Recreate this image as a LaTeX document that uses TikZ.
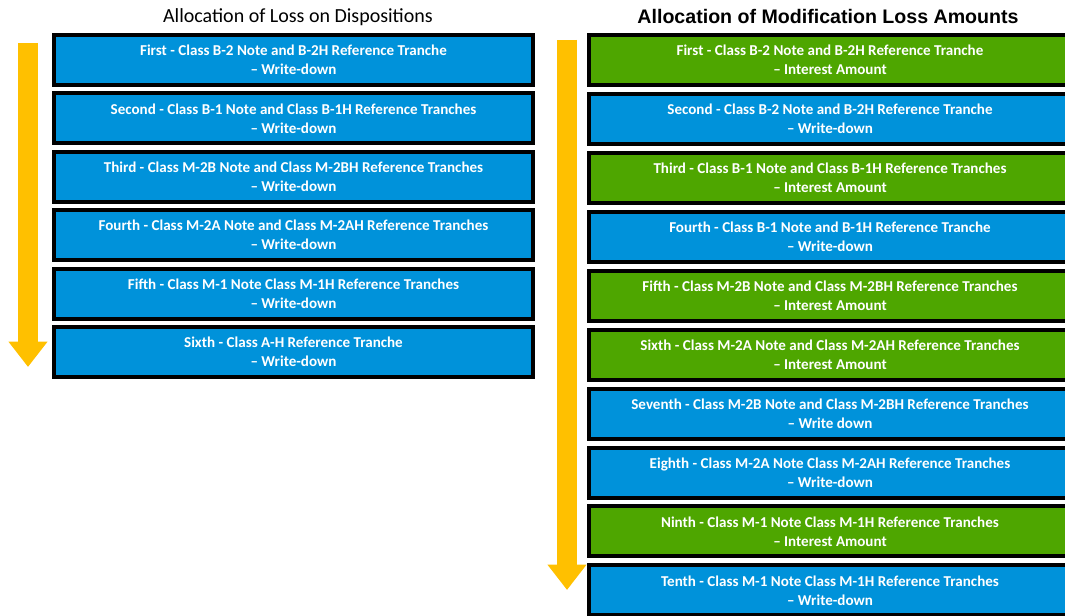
\documentclass[tikz,border=0pt]{standalone}
\usepackage{fontspec}
\setmainfont{Carlito}
\newfontfamily\headfont{Liberation Sans}
\usetikzlibrary{arrows.meta,positioning}

\definecolor{lossblue}{RGB}{0,146,218}
\definecolor{lossgreen}{RGB}{78,166,0}
\definecolor{flowgold}{RGB}{255,192,0}

\begin{document}
\begin{tikzpicture}[
  x=0.75pt, y=-0.75pt,
  tranche/.style={draw=black, line width=3pt, fill=lossblue, text=white,
    align=center, minimum width=359pt, minimum height=37.5pt, inner sep=0pt,
    font=\bfseries\fontsize{11.3}{14.3}\selectfont},
  interest/.style={tranche, fill=lossgreen, minimum width=362pt},
  writedown/.style={tranche, minimum width=362pt},
  flow/.style={line width=15pt, flowgold, -{Triangle[width=28pt, length=19pt]}}
]
\useasboundingbox (0,0) rectangle (1065,616);

% headings
\node[font=\fontsize{15}{17}\selectfont] (lefthead) at (298,17) {Allocation of Loss on Dispositions};
\node[font=\headfont\bfseries\fontsize{14.7}{17}\selectfont] (righthead) at (828,16) {Allocation of Modification Loss Amounts};

% dispositions
\begin{scope}[node distance=3.3pt]
\node[tranche] (d1) at (293.5,60) {First - Class B-2 Note and B-2H Reference Tranche\\-- Write-down};
\node[tranche, below=of d1] (d2) {Second - Class B-1 Note and Class B-1H Reference Tranches\\-- Write-down};
\node[tranche, below=of d2] (d3) {Third - Class M-2B Note and Class M-2BH Reference Tranches\\-- Write-down};
\node[tranche, below=of d3] (d4) {Fourth - Class M-2A Note and Class M-2AH Reference Tranches\\-- Write-down};
\node[tranche, below=of d4] (d5) {Fifth - Class M-1 Note Class M-1H Reference Tranches\\-- Write-down};
\node[tranche, below=of d5] (d6) {Sixth - Class A-H Reference Tranche\\-- Write-down};
\end{scope}

% modification losses
\begin{scope}[node distance=3.7pt]
\node[interest] (m1) at (830,60) {First - Class B-2 Note and B-2H Reference Tranche\\-- Interest Amount};
\node[writedown, below=of m1] (m2) {Second - Class B-2 Note and B-2H Reference Tranche\\-- Write-down};
\node[interest, below=of m2] (m3) {Third - Class B-1 Note and Class B-1H Reference Tranches\\-- Interest Amount};
\node[writedown, below=of m3] (m4) {Fourth - Class B-1 Note and B-1H Reference Tranche\\-- Write-down};
\node[interest, below=of m4] (m5) {Fifth - Class M-2B Note and Class M-2BH Reference Tranches\\-- Interest Amount};
\node[interest, below=of m5] (m6) {Sixth - Class M-2A Note and Class M-2AH Reference Tranches\\-- Interest Amount};
\node[writedown, below=of m6] (m7) {Seventh - Class M-2B Note and Class M-2BH Reference Tranches\\-- Write down};
\node[writedown, below=of m7] (m8) {Eighth - Class M-2A Note Class M-2AH Reference Tranches\\-- Write-down};
\node[interest, below=of m8] (m9) {Ninth - Class M-1 Note Class M-1H Reference Tranches\\-- Interest Amount};
\node[writedown, below=of m9] (m10) {Tenth - Class M-1 Note Class M-1H Reference Tranches\\-- Write-down};
\end{scope}

% order arrows
\coordinate (lefttop) at (28,43);
\coordinate (leftend) at (28,367);
\coordinate (righttop) at (567,40);
\coordinate (rightend) at (567,590);
\draw[flow] (lefttop) -- (leftend);
\draw[flow] (righttop) -- (rightend);
\end{tikzpicture}
\end{document}
